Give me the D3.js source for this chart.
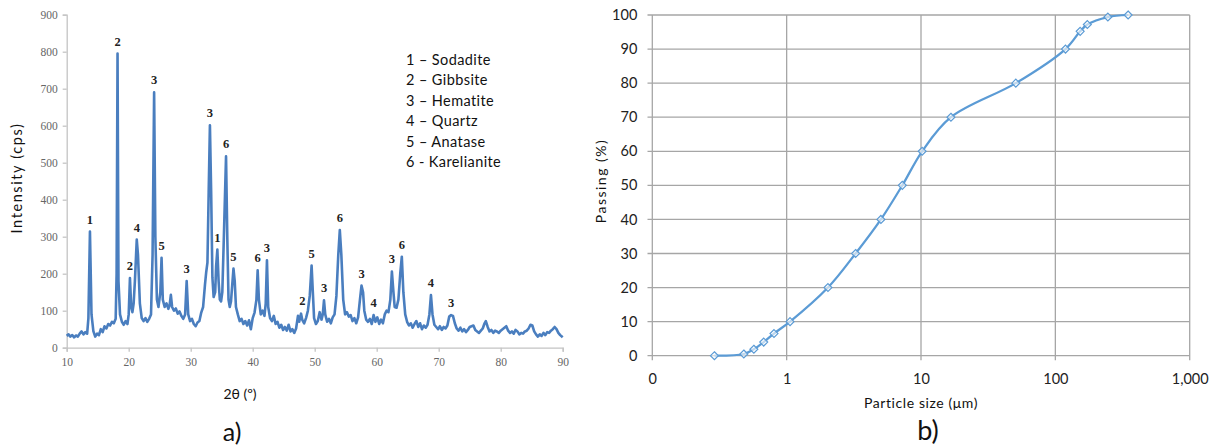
<!DOCTYPE html>
<html>
<head>
<meta charset="utf-8">
<script src="https://cdn.jsdelivr.net/npm/d3@7"></script>
<style>
  body { margin: 0; background: #fff; }
  svg { display: block; }
  .peak { font-family: "Liberation Serif", serif; font-weight: bold; font-size: 12.5px; fill: #222; }
  .xrd-tick text { font-family: "Liberation Serif", serif; font-size: 11.5px; fill: #666; }
  .psd-tick text { font-family: Lato, sans-serif; font-size: 14.5px; fill: #222; }
  .title { font-family: Lato, sans-serif; font-size: 14px; fill: #111; }
</style>
</head>
<body>
<svg width="1217" height="448"></svg>
<script>
// XRD pattern, [2theta, intensity]
const xrd = [
  [10.0,32],[10.3,36],[10.6,30],[10.9,34],[11.2,28],[11.5,33],[11.8,30],[12.1,38],[12.4,44],[12.7,36],
  [13.0,42],[13.3,38],[13.5,80],[13.75,314],[14.0,90],[14.3,45],[14.6,30],[14.9,38],[15.2,34],[15.5,50],
  [15.8,42],[16.1,58],[16.4,52],[16.7,64],[17.0,60],[17.3,70],[17.6,66],[17.9,78],[18.05,200],[18.2,795],
  [18.35,180],[18.6,90],[18.9,70],[19.2,62],[19.5,72],[19.8,64],[20.0,90],[20.2,188],[20.4,110],[20.6,96],
  [20.8,120],[21.0,180],[21.3,292],[21.5,250],[21.8,120],[22.1,80],[22.4,72],[22.7,80],[23.0,70],[23.3,78],
  [23.6,90],[23.85,250],[24.1,690],[24.3,300],[24.55,130],[24.8,110],[25.1,150],[25.3,243],[25.5,130],[25.8,110],
  [26.1,120],[26.4,105],[26.6,115],[26.8,143],[27.0,110],[27.3,100],[27.6,106],[27.9,92],[28.2,98],[28.5,86],
  [28.8,78],[29.1,90],[29.35,180],[29.6,90],[29.9,72],[30.2,78],[30.5,64],[30.8,58],[31.1,68],[31.4,72],
  [31.7,95],[32.0,110],[32.3,170],[32.5,204],[32.7,230],[32.9,420],[33.1,601],[33.3,420],[33.5,190],[33.7,137],
  [33.95,150],[34.1,220],[34.3,265],[34.5,180],[34.7,130],[34.9,125],[35.1,150],[35.35,300],[35.7,517],[35.9,300],
  [36.1,130],[36.3,110],[36.5,125],[36.7,170],[36.9,214],[37.1,180],[37.3,110],[37.6,90],[37.9,72],[38.2,78],
  [38.5,64],[38.8,72],[39.1,60],[39.4,74],[39.7,50],[40.0,80],[40.3,95],[40.6,130],[40.8,209],[41.0,130],
  [41.3,90],[41.6,100],[41.9,86],[42.1,120],[42.3,236],[42.5,110],[42.8,80],[43.1,72],[43.4,86],[43.7,64],
  [44.0,70],[44.3,54],[44.6,62],[44.9,48],[45.2,56],[45.5,46],[45.8,62],[46.1,44],[46.4,50],[46.7,40],
  [47.0,52],[47.3,86],[47.5,70],[47.8,92],[48.0,75],[48.3,66],[48.6,80],[48.9,100],[49.2,140],[49.5,222],
  [49.7,150],[49.9,80],[50.2,64],[50.5,72],[50.8,96],[51.1,76],[51.3,90],[51.5,128],[51.7,90],[52.0,70],
  [52.3,78],[52.6,66],[52.9,82],[53.2,90],[53.5,140],[53.8,250],[54.05,318],[54.3,250],[54.6,130],[54.9,90],
  [55.2,96],[55.5,84],[55.8,88],[56.1,72],[56.4,80],[56.7,66],[57.0,82],[57.3,130],[57.55,168],[57.8,150],
  [58.0,100],[58.3,76],[58.6,70],[58.9,78],[59.2,64],[59.5,88],[59.8,70],[60.1,82],[60.4,64],[60.7,76],
  [61.0,66],[61.3,90],[61.6,100],[61.9,96],[62.2,130],[62.45,206],[62.7,150],[62.9,110],[63.2,108],[63.5,130],
  [63.8,200],[64.05,246],[64.3,150],[64.6,90],[64.9,70],[65.2,60],[65.5,66],[65.8,54],[66.1,64],[66.4,72],
  [66.7,56],[67.0,66],[67.3,50],[67.6,60],[67.9,54],[68.2,62],[68.5,90],[68.75,142],[69.0,90],[69.3,62],
  [69.6,56],[69.9,50],[70.2,58],[70.5,48],[70.8,56],[71.1,52],[71.4,60],[71.7,84],[72.0,88],[72.3,86],
  [72.6,66],[72.9,52],[73.2,46],[73.5,54],[73.8,44],[74.1,50],[74.4,42],[74.7,48],[75.0,56],[75.3,58],
  [75.6,60],[75.9,48],[76.2,44],[76.5,40],[76.8,46],[77.1,52],[77.4,66],[77.6,72],[77.9,56],[78.2,44],
  [78.5,48],[78.8,40],[79.1,46],[79.4,44],[79.7,40],[80.0,46],[80.3,50],[80.6,54],[80.9,58],[81.2,46],
  [81.5,40],[81.8,44],[82.1,38],[82.4,48],[82.7,44],[83.0,36],[83.3,40],[83.6,38],[83.9,44],[84.2,46],
  [84.5,52],[84.8,62],[85.1,60],[85.4,44],[85.7,36],[86.0,30],[86.3,36],[86.6,32],[86.9,40],[87.2,34],
  [87.5,42],[87.8,40],[88.1,46],[88.4,50],[88.7,56],[89.0,50],[89.3,40],[89.6,34],[90.0,28]
];

// peak markers: [2theta, intensity, phase]
const peaks = [
  [13.75,314,'1'],[18.2,795,'2'],[20.2,188,'2'],[21.3,292,'4'],[24.1,690,'3'],[25.3,243,'5'],
  [29.35,180,'3'],[33.1,601,'3'],[34.3,265,'1'],[35.7,517,'6'],[36.9,214,'5'],[40.8,209,'6'],
  [42.3,236,'3'],[48.0,94,'2'],[49.5,222,'5'],[51.5,128,'3'],[54.05,318,'6'],[57.55,168,'3'],
  [59.5,88,'4'],[62.45,206,'3'],[64.05,246,'6'],[68.75,142,'4'],[72.0,88,'3']
];

const phases = ['1 – Sodadite', '2 – Gibbsite', '3 – Hematite', '4 – Quartz', '5 – Anatase', '6 - Karelianite'];
const xrdXTicks = [10, 20, 30, 40, 50, 60, 70, 80, 90];
const xrdYTicks = [0, 100, 200, 300, 400, 500, 600, 700, 800, 900];

// particle size distribution
const sizeUm = [0.29, 0.48, 0.57, 0.675, 0.805, 1.06, 2.03, 3.26, 5.03, 7.26, 10.2, 16.7, 50.8, 119, 153, 173, 246, 348];
const passing = [0, 0.5, 1.9, 4, 6.5, 10, 20, 30, 40, 50, 60, 70, 80, 90, 95.2, 97.2, 99.4, 100];
const psdXTicks = [0.1, 1, 10, 100, 1000];
const psdXLabels = ['0', '1', '10', '100', '1,000'];
const psdYTicks = [0, 10, 20, 30, 40, 50, 60, 70, 80, 90, 100];

const svg = d3.select('svg');

// ---- a) XRD ----
const x1 = d3.scaleLinear().domain([10, 90]).range([66.7, 562.7]);
const y1 = d3.scaleLinear().domain([0, 900]).range([347.7, 14.7]);
const ga = svg.append('g');

ga.append('g')
  .attr('class', 'xrd-tick')
  .attr('transform', 'translate(0,347.7)')
  .call(d3.axisBottom(x1).tickValues(xrdXTicks).tickSize(4).tickPadding(6))
  .call(g => g.selectAll('line, path').attr('stroke', '#c4c4c4').attr('stroke-width', 1.3));

ga.append('g')
  .attr('class', 'xrd-tick')
  .attr('transform', 'translate(66.7,0)')
  .call(d3.axisLeft(y1).tickValues(xrdYTicks).tickSize(4).tickPadding(5))
  .call(g => g.selectAll('line, path').attr('stroke', '#c4c4c4').attr('stroke-width', 1.3));

ga.append('path')
  .datum(xrd)
  .attr('fill', 'none')
  .attr('stroke', '#4a7ebf')
  .attr('stroke-width', 2.6)
  .attr('stroke-linejoin', 'round')
  .attr('d', d3.line().x(d => x1(d[0])).y(d => y1(d[1])));

ga.selectAll('.peak').data(peaks)
  .enter().append('text')
  .attr('class', 'peak')
  .attr('x', d => x1(d[0]))
  .attr('y', d => y1(d[1]) - 8)
  .attr('text-anchor', 'middle')
  .text(d => d[2]);

ga.selectAll('.legend').data(phases)
  .enter().append('text')
  .attr('class', 'title')
  .attr('x', 406)
  .attr('y', (d, i) => 65 + i * 20.4)
  .style('font-size', '14.5px')
  .style('letter-spacing', '0.4px')
  .text(d => d);

ga.append('text').attr('class', 'title')
  .attr('transform', 'translate(22,178) rotate(-90)')
  .attr('text-anchor', 'middle')
  .style('font-size', '14.5px')
  .style('letter-spacing', '1.6px')
  .text('Intensity (cps)');

ga.append('text').attr('class', 'title')
  .attr('x', 240).attr('y', 399)
  .attr('text-anchor', 'middle')
  .text('2θ (º)');

ga.append('text').attr('class', 'title')
  .attr('x', 232).attr('y', 441)
  .attr('text-anchor', 'middle')
  .style('font-size', '25px')
  .text('a)');

// ---- b) particle size ----
const x2 = d3.scaleLog().domain([0.1, 1000]).range([652.3, 1189.7]);
const y2 = d3.scaleLinear().domain([0, 100]).range([355.7, 15]);
const gb = svg.append('g');

gb.append('g')
  .selectAll('line').data(psdYTicks)
  .enter().append('line')
  .attr('x1', 647.5).attr('x2', x2(1000))
  .attr('y1', d => y2(d)).attr('y2', d => y2(d))
  .attr('stroke', '#a6a6a6').attr('stroke-width', 1.3);

gb.append('g')
  .selectAll('line').data(psdXTicks)
  .enter().append('line')
  .attr('x1', d => x2(d)).attr('x2', d => x2(d))
  .attr('y1', y2(100)).attr('y2', y2(0) + 4.5)
  .attr('stroke', '#a6a6a6').attr('stroke-width', 1.3);

gb.append('g')
  .attr('class', 'psd-tick')
  .attr('transform', `translate(0,${y2(0)})`)
  .call(d3.axisBottom(x2).tickValues(psdXTicks).tickFormat((d, i) => psdXLabels[i]).tickSize(0).tickPadding(18))
  .call(g => g.select('.domain').remove());

gb.append('g')
  .attr('class', 'psd-tick')
  .attr('transform', 'translate(652.3,0)')
  .call(d3.axisLeft(y2).tickValues(psdYTicks).tickSize(0).tickPadding(15))
  .call(g => g.select('.domain').remove());

const psd = sizeUm.map((s, i) => [s, passing[i]]);

gb.append('path')
  .datum(psd)
  .attr('fill', 'none')
  .attr('stroke', '#5b9bd5')
  .attr('stroke-width', 2.25)
  .attr('d', d3.line().curve(d3.curveCatmullRom.alpha(0.5)).x(d => x2(d[0])).y(d => y2(d[1])));

gb.selectAll('.mark').data(psd)
  .enter().append('path')
  .attr('transform', d => `translate(${x2(d[0])},${y2(d[1])})`)
  .attr('d', d3.symbol(d3.symbolDiamond2, 40))
  .attr('fill', '#fff')
  .attr('fill-opacity', 0.6)
  .attr('stroke', '#5b9bd5')
  .attr('stroke-width', 1.2);

gb.append('text').attr('class', 'title')
  .attr('transform', 'translate(606,181) rotate(-90)')
  .attr('text-anchor', 'middle')
  .style('letter-spacing', '1.5px')
  .text('Passing (%)');

gb.append('text').attr('class', 'title')
  .attr('x', 921).attr('y', 408)
  .attr('text-anchor', 'middle')
  .style('letter-spacing', '0.6px')
  .text('Particle size (μm)');

gb.append('text').attr('class', 'title')
  .attr('x', 928).attr('y', 440)
  .attr('text-anchor', 'middle')
  .style('font-size', '27px')
  .text('b)');
</script>
</body>
</html>
